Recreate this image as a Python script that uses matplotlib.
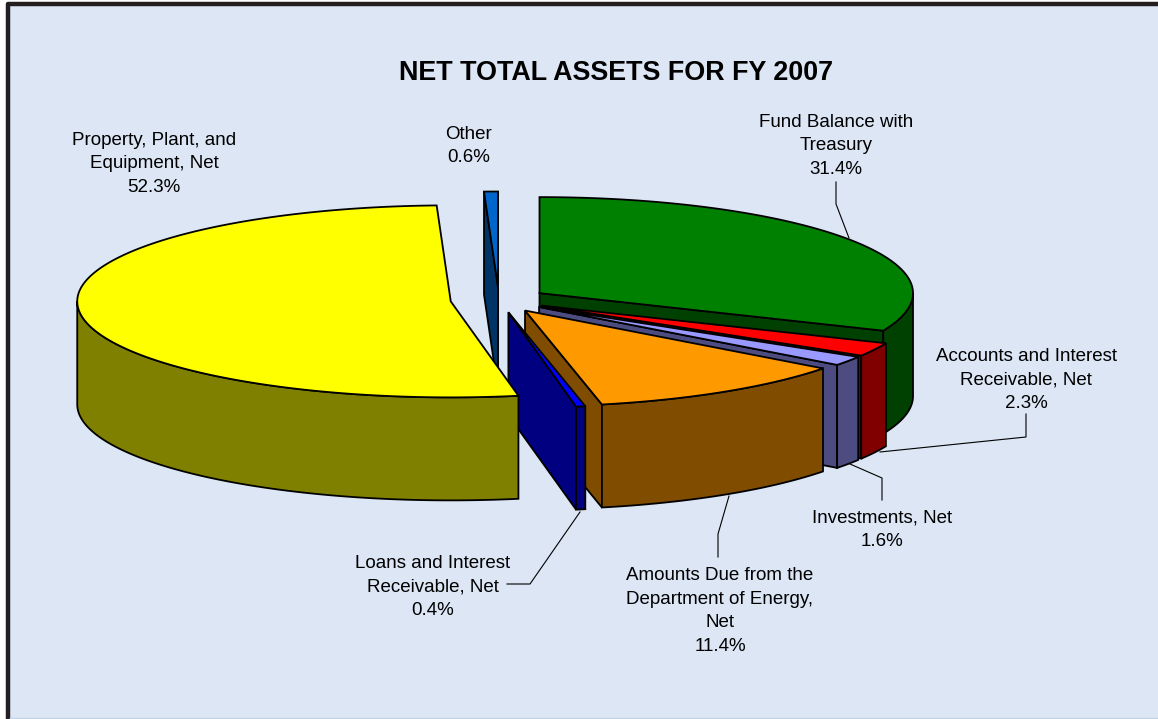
import numpy as np
import matplotlib
matplotlib.use("Agg")
import matplotlib.pyplot as plt
from matplotlib.patches import Polygon

plt.rcParams['font.family'] = ['Liberation Sans', 'DejaVu Sans']

# datos del grafico
categories = ["Fund Balance with\nTreasury", "Accounts and Interest\nReceivable, Net",
              "Investments, Net", "Amounts Due from the\nDepartment of Energy,\nNet",
              "Loans and Interest\nReceivable, Net", "Property, Plant, and\nEquipment, Net", "Other"]
values = [31.4, 2.3, 1.6, 11.4, 0.4, 52.3, 0.6]
top_colors = ["#008000", "#FF0000", "#9999FF", "#FF9900", "#0000FF", "#FFFF00", "#0066CC"]
side_colors = ["#004000", "#800000", "#4C4C80", "#804C00", "#000080", "#808000", "#003366"]
label_pos = [(836, 146), (1026, 380), (882, 530), (720, 611), (433, 587), (154, 164), (469, 146)]
leaders = [[(849, 238), (836, 204), (836, 182)],
           [(880, 452), (1026, 437), (1026, 414)],
           [(850, 464), (882, 478), (882, 500)],
           [(729, 496), (718, 534), (718, 557)],
           [(580, 512), (530, 584), (507, 584)]]

# geometria del pastel
cx, cy = 499, 300
rx, ry = 373.5, 96
depth = 103
explode = 0.13
draw_order = [6, 0, 1, 2, 3, 4, 5]

fig = plt.figure(figsize=(11.58, 7.19), dpi=100, facecolor="white")
ax = fig.add_axes([0, 0, 1, 1])
ax.set_xlim(0, 1158)
ax.set_ylim(719, 0)
ax.axis("off")

# fondo y marco
ax.add_patch(plt.Rectangle((8, 4), 1152, 716, fc="#DCE6F5", ec="none"))
ax.plot([8, 8, 1158], [719, 4, 4], color="#231F20", lw=3.2, solid_capstyle="butt")
ax.plot([10, 1158], [718, 718], color="#C5D3E6", lw=1)


def arc(apex, t1, t2):
    t = np.radians(np.linspace(t1, t2, max(int(abs(t2 - t1)) * 2, 4)))
    return np.column_stack([apex[0] + rx * np.sin(t), apex[1] - ry * np.cos(t)])


def add_face(points, color):
    ax.add_patch(Polygon(points, closed=True, fc=color, ec="black", lw=1.3, joinstyle="miter"))


edges = np.concatenate([[0], np.cumsum(values)]) * 3.6
for i in draw_order:
    t1, t2 = edges[i], edges[i + 1]
    mid = np.radians((t1 + t2) / 2)
    apex = np.array([cx + explode * rx * np.sin(mid), cy - explode * ry * np.cos(mid)])
    down = np.array([0, depth])

    # paredes radiales visibles
    for t, visible in ((t1, np.sin(np.radians(t1)) < -1e-6), (t2, np.sin(np.radians(t2)) > 1e-6)):
        if visible:
            outer = arc(apex, t, t)[0]
            add_face([apex, outer, outer + down, apex + down], side_colors[i])

    # pared exterior, solo la parte que mira al frente
    a, b = max(t1, 90), min(t2, 270)
    if a < b:
        front = arc(apex, a, b)
        add_face(np.vstack([front, (front + down)[::-1]]), side_colors[i])

    add_face(np.vstack([[apex], arc(apex, t1, t2)]), top_colors[i])

for line in leaders:
    xs, ys = zip(*line)
    ax.plot(xs, ys, color="black", lw=0.8)

ax.text(616, 73, "NET TOTAL ASSETS FOR FY 2007", ha="center", va="center",
        fontsize=19.4, fontweight="bold", color="black")
for name, v, (x, y) in zip(categories, values, label_pos):
    ax.text(x, y, f"{name}\n{v}%", ha="center", va="center", fontsize=13.5,
            linespacing=1.52, color="black")

fig.savefig("out.png", dpi=100)
